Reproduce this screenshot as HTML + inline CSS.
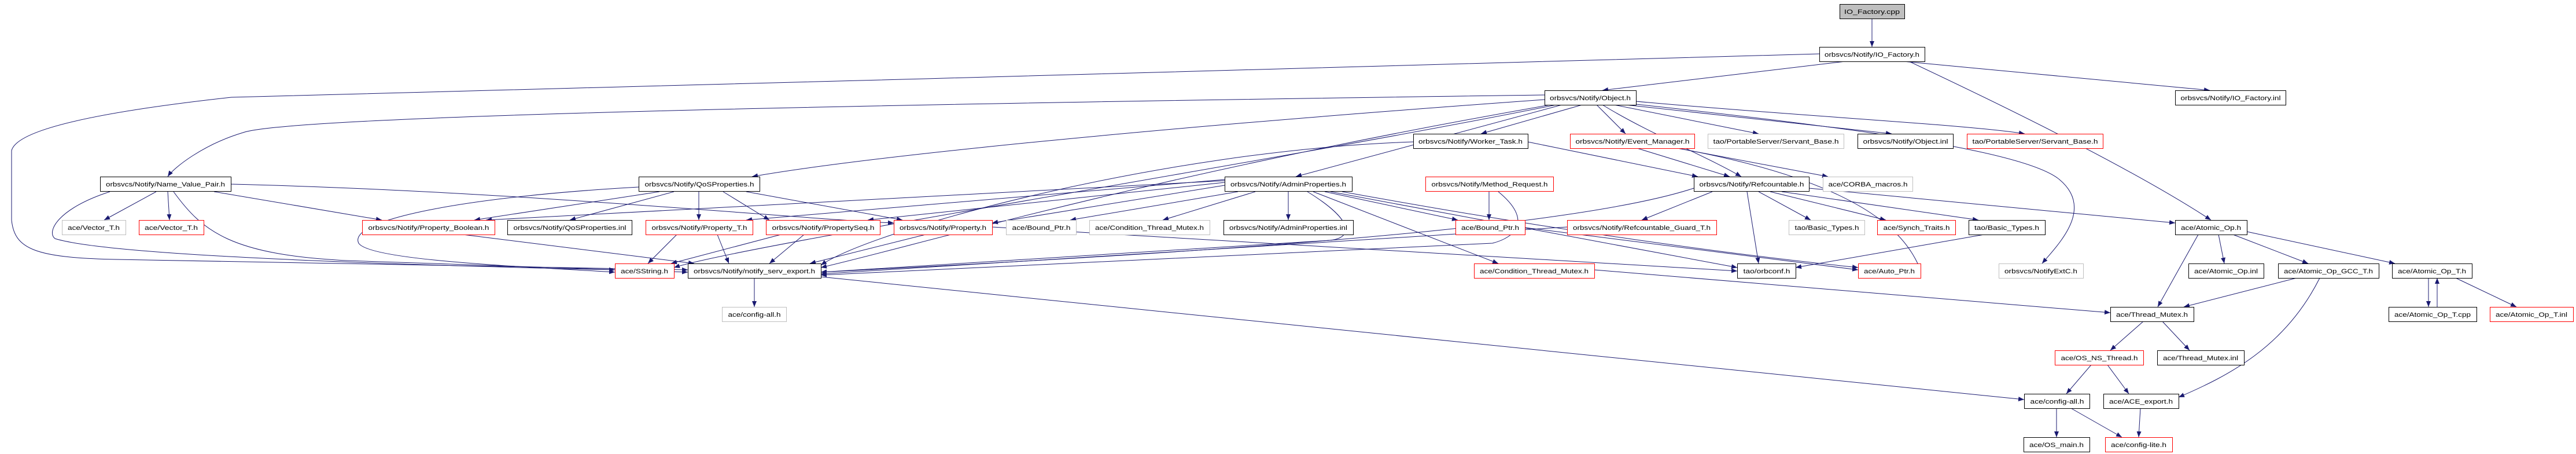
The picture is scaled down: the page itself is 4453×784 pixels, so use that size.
<!DOCTYPE html>
<html><head><meta charset="utf-8"><style>
html,body{margin:0;padding:0;background:#fff;}
svg{display:block;}
text{font-family:"Liberation Sans",sans-serif;font-size:11px;fill:#000;}
.e{fill:none;stroke:#191970;stroke-width:1;marker-end:url(#a);}
</style></head><body>
<svg width="4453" height="784" viewBox="0 0 4453 784" xmlns="http://www.w3.org/2000/svg">
<defs><marker id="a" markerWidth="10" markerHeight="8" refX="10" refY="4" orient="auto" markerUnits="userSpaceOnUse"><path d="M0,0 L10,4 L0,8z" fill="#191970"/></marker></defs>
<g>
<path class="e" d="M3236,32 L3236,81"/>
<path class="e" d="M3190,106 L2770,156"/>
<path class="e" d="M3290,106 L3820,156"/>
<path class="e" d="M3300,106 C3500,200 3700,300 3822,380"/>
<path class="e" d="M3145,93 L1600,136 L400,168 C200,190 30,220 20,260 L20,380 C25,430 60,445 200,448 L1189,466"/>
<path class="e" d="M2670,164 C1500,180 500,200 420,229 C350,250 300,290 290,305"/>
<path class="e" d="M2735,181 L2560,231"/>
<path class="e" d="M2760,181 L2810,231"/>
<path class="e" d="M2790,181 L3040,231"/>
<path class="e" d="M2810,181 L3270,231"/>
<path class="e" d="M2828,175 C3100,200 3400,215 3500,231"/>
<path class="e" d="M2670,172 C2000,220 1500,270 1300,305"/>
<path class="e" d="M2700,181 L2240,305"/>
<path class="e" d="M2770,181 C2850,230 2950,270 3010,305"/>
<path class="e" d="M2900,256 L3160,305"/>
<path class="e" d="M2828,180 C3200,220 3500,260 3560,310 C3620,360 3560,420 3530,455"/>
<path class="e" d="M2680,181 C2000,300 1600,420 1419,462"/>
<path class="e" d="M2690,181 C2200,280 1300,420 1165,462"/>
<path class="e" d="M2641,245 L2935,305"/>
<path class="e" d="M2443,245 C2000,260 1500,400 1419,458"/>
<path class="e" d="M2830,256 L2990,305"/>
<path class="e" d="M2900,256 C3250,320 3300,420 3320,466"/>
<path class="e" d="M270,331 L180,380"/>
<path class="e" d="M290,331 L293,380"/>
<path class="e" d="M370,331 L660,380"/>
<path class="e" d="M399,318 C900,330 1400,380 1545,385"/>
<path class="e" d="M190,331 C100,360 80,400 95,412 C200,445 800,460 1063,466"/>
<path class="e" d="M300,331 C350,400 400,440 600,450 L1189,470"/>
<path class="e" d="M1140,331 L820,380"/>
<path class="e" d="M1165,331 L985,380"/>
<path class="e" d="M1208,331 L1208,380"/>
<path class="e" d="M1250,331 L1330,380"/>
<path class="e" d="M1290,331 L1560,380"/>
<path class="e" d="M1104,323 C800,340 600,380 620,420 C640,450 900,460 1063,470"/>
<path class="e" d="M2117,320 L1715,385"/>
<path class="e" d="M2140,331 L1850,380"/>
<path class="e" d="M2170,331 L2010,380"/>
<path class="e" d="M2227,331 L2227,380"/>
<path class="e" d="M2290,331 L2520,380"/>
<path class="e" d="M2270,331 L2590,455"/>
<path class="e" d="M2300,331 L3003,462"/>
<path class="e" d="M2320,331 C2700,400 3000,440 3212,462"/>
<path class="e" d="M2117,315 L1500,380"/>
<path class="e" d="M2117,310 L1290,380"/>
<path class="e" d="M2117,312 L840,380"/>
<path class="e" d="M2260,331 C2340,380 2340,410 2300,415 L1419,470"/>
<path class="e" d="M2574,331 L2574,380"/>
<path class="e" d="M2590,331 C2650,380 2620,410 2580,420 L1419,475"/>
<path class="e" d="M2960,331 L2838,380"/>
<path class="e" d="M3040,331 L3130,380"/>
<path class="e" d="M3060,331 L3260,380"/>
<path class="e" d="M3080,331 L3420,380"/>
<path class="e" d="M3127,325 L3760,385"/>
<path class="e" d="M3020,331 L3040,455"/>
<path class="e" d="M2928,325 C2700,400 2000,440 1419,470"/>
<path class="e" d="M2709,392 L1419,473"/>
<path class="e" d="M2636,393 L3212,466"/>
<path class="e" d="M1715,392 L3003,468"/>
<path class="e" d="M1600,405 L1400,455"/>
<path class="e" d="M800,405 L1200,455"/>
<path class="e" d="M1170,405 L1120,455"/>
<path class="e" d="M1240,405 L1260,455"/>
<path class="e" d="M1350,405 L1160,455"/>
<path class="e" d="M1390,405 L1330,455"/>
<path class="e" d="M3430,405 L3104,462"/>
<path class="e" d="M2756,466 L3648,540"/>
<path class="e" d="M1304,480 L1304,530"/>
<path class="e" d="M1419,478 L3499,690"/>
<path class="e" d="M3800,405 L3730,530"/>
<path class="e" d="M3835,405 L3845,455"/>
<path class="e" d="M3860,405 L3990,455"/>
<path class="e" d="M3884,400 L4140,455"/>
<path class="e" d="M3970,480 L3775,530"/>
<path class="e" d="M4010,480 C3950,600 3850,650 3766,686"/>
<path class="e" d="M4198,480 L4198,530"/>
<path class="e" d="M4213,530 L4213,480"/>
<path class="e" d="M4245,480 L4350,530"/>
<path class="e" d="M3705,555 L3648,605"/>
<path class="e" d="M3738,555 L3785,605"/>
<path class="e" d="M3615,630 L3572,680"/>
<path class="e" d="M3643,630 L3680,680"/>
<path class="e" d="M3555,705 L3555,755"/>
<path class="e" d="M3580,705 L3668,755"/>
<path class="e" d="M3700,705 L3697,755"/>
</g>
<g stroke-width="1">
<!-- node template: rect + text -->
<rect x="3180.5" y="7.5" width="112" height="25" fill="#bfbfbf" stroke="#000"/><text x="3236" y="24" text-anchor="middle" textLength="96" lengthAdjust="spacingAndGlyphs">IO_Factory.cpp</text>
<rect x="3145.5" y="81.5" width="182" height="25" fill="#fff" stroke="#000"/><text x="3236" y="98" text-anchor="middle" textLength="164" lengthAdjust="spacingAndGlyphs">orbsvcs/Notify/IO_Factory.h</text>
<rect x="2670.5" y="156.5" width="158" height="25" fill="#fff" stroke="#000"/><text x="2749" y="173" text-anchor="middle" textLength="140" lengthAdjust="spacingAndGlyphs">orbsvcs/Notify/Object.h</text>
<rect x="3760.5" y="156.5" width="191" height="25" fill="#fff" stroke="#000"/><text x="3856" y="173" text-anchor="middle" textLength="173" lengthAdjust="spacingAndGlyphs">orbsvcs/Notify/IO_Factory.inl</text>

<rect x="2443.5" y="231.5" width="198" height="25" fill="#fff" stroke="#000"/><text x="2542" y="248" text-anchor="middle" textLength="180" lengthAdjust="spacingAndGlyphs">orbsvcs/Notify/Worker_Task.h</text>
<rect x="2714.5" y="231.5" width="215" height="25" fill="#fff" stroke="#f00"/><text x="2822" y="248" text-anchor="middle" textLength="197" lengthAdjust="spacingAndGlyphs">orbsvcs/Notify/Event_Manager.h</text>
<rect x="2952.5" y="231.5" width="235" height="25" fill="#fff" stroke="#bfbfbf"/><text x="3070" y="248" text-anchor="middle" textLength="217" lengthAdjust="spacingAndGlyphs">tao/PortableServer/Servant_Base.h</text>
<rect x="3211.5" y="231.5" width="165" height="25" fill="#fff" stroke="#000"/><text x="3294" y="248" text-anchor="middle" textLength="147" lengthAdjust="spacingAndGlyphs">orbsvcs/Notify/Object.inl</text>
<rect x="3400.5" y="231.5" width="235" height="25" fill="#fff" stroke="#f00"/><text x="3518" y="248" text-anchor="middle" textLength="217" lengthAdjust="spacingAndGlyphs">tao/PortableServer/Servant_Base.h</text>

<rect x="173.5" y="305.5" width="226" height="25" fill="#fff" stroke="#000"/><text x="286" y="322" text-anchor="middle" textLength="206" lengthAdjust="spacingAndGlyphs">orbsvcs/Notify/Name_Value_Pair.h</text>
<rect x="1104.5" y="305.5" width="209" height="25" fill="#fff" stroke="#000"/><text x="1209" y="322" text-anchor="middle" textLength="189" lengthAdjust="spacingAndGlyphs">orbsvcs/Notify/QoSProperties.h</text>
<rect x="2117.5" y="305.5" width="220" height="25" fill="#fff" stroke="#000"/><text x="2227" y="322" text-anchor="middle" textLength="200" lengthAdjust="spacingAndGlyphs">orbsvcs/Notify/AdminProperties.h</text>
<rect x="2464.5" y="305.5" width="221" height="25" fill="#fff" stroke="#f00"/><text x="2575" y="322" text-anchor="middle" textLength="201" lengthAdjust="spacingAndGlyphs">orbsvcs/Notify/Method_Request.h</text>
<rect x="2928.5" y="305.5" width="199" height="25" fill="#fff" stroke="#000"/><text x="3028" y="322" text-anchor="middle" textLength="181" lengthAdjust="spacingAndGlyphs">orbsvcs/Notify/Refcountable.h</text>
<rect x="3151.5" y="305.5" width="155" height="25" fill="#fff" stroke="#bfbfbf"/><text x="3229" y="322" text-anchor="middle" textLength="137" lengthAdjust="spacingAndGlyphs">ace/CORBA_macros.h</text>

<rect x="107.5" y="380.5" width="110" height="25" fill="#fff" stroke="#bfbfbf"/><text x="162" y="397" text-anchor="middle" textLength="90" lengthAdjust="spacingAndGlyphs">ace/Vector_T.h</text>
<rect x="240.5" y="380.5" width="112" height="25" fill="#fff" stroke="#f00"/><text x="296" y="397" text-anchor="middle" textLength="92" lengthAdjust="spacingAndGlyphs">ace/Vector_T.h</text>
<rect x="626.5" y="380.5" width="229" height="25" fill="#fff" stroke="#f00"/><text x="741" y="397" text-anchor="middle" textLength="209" lengthAdjust="spacingAndGlyphs">orbsvcs/Notify/Property_Boolean.h</text>
<rect x="877.5" y="380.5" width="215" height="25" fill="#fff" stroke="#000"/><text x="985" y="397" text-anchor="middle" textLength="195" lengthAdjust="spacingAndGlyphs">orbsvcs/Notify/QoSProperties.inl</text>
<rect x="1116.5" y="380.5" width="185" height="25" fill="#fff" stroke="#f00"/><text x="1209" y="397" text-anchor="middle" textLength="165" lengthAdjust="spacingAndGlyphs">orbsvcs/Notify/Property_T.h</text>
<rect x="1324.5" y="380.5" width="197" height="25" fill="#fff" stroke="#f00"/><text x="1423" y="397" text-anchor="middle" textLength="177" lengthAdjust="spacingAndGlyphs">orbsvcs/Notify/PropertySeq.h</text>
<rect x="1545.5" y="380.5" width="170" height="25" fill="#fff" stroke="#f00"/><text x="1630" y="397" text-anchor="middle" textLength="150" lengthAdjust="spacingAndGlyphs">orbsvcs/Notify/Property.h</text>
<rect x="1739.5" y="380.5" width="121" height="25" fill="#fff" stroke="#bfbfbf"/><text x="1800" y="397" text-anchor="middle" textLength="101" lengthAdjust="spacingAndGlyphs">ace/Bound_Ptr.h</text>
<rect x="1883.5" y="380.5" width="208" height="25" fill="#fff" stroke="#bfbfbf"/><text x="1987" y="397" text-anchor="middle" textLength="188" lengthAdjust="spacingAndGlyphs">ace/Condition_Thread_Mutex.h</text>
<rect x="2115.5" y="380.5" width="224" height="25" fill="#fff" stroke="#000"/><text x="2227" y="397" text-anchor="middle" textLength="204" lengthAdjust="spacingAndGlyphs">orbsvcs/Notify/AdminProperties.inl</text>
<rect x="2516.5" y="380.5" width="120" height="25" fill="#fff" stroke="#f00"/><text x="2576" y="397" text-anchor="middle" textLength="100" lengthAdjust="spacingAndGlyphs">ace/Bound_Ptr.h</text>
<rect x="2709.5" y="380.5" width="258" height="25" fill="#fff" stroke="#f00"/><text x="2838" y="397" text-anchor="middle" textLength="238" lengthAdjust="spacingAndGlyphs">orbsvcs/Notify/Refcountable_Guard_T.h</text>
<rect x="3092.5" y="380.5" width="131" height="25" fill="#fff" stroke="#bfbfbf"/><text x="3158" y="397" text-anchor="middle" textLength="111" lengthAdjust="spacingAndGlyphs">tao/Basic_Types.h</text>
<rect x="3245.5" y="380.5" width="135" height="25" fill="#fff" stroke="#f00"/><text x="3313" y="397" text-anchor="middle" textLength="115" lengthAdjust="spacingAndGlyphs">ace/Synch_Traits.h</text>
<rect x="3403.5" y="380.5" width="132" height="25" fill="#fff" stroke="#000"/><text x="3469" y="397" text-anchor="middle" textLength="112" lengthAdjust="spacingAndGlyphs">tao/Basic_Types.h</text>
<rect x="3760.5" y="380.5" width="124" height="25" fill="#fff" stroke="#000"/><text x="3822" y="397" text-anchor="middle" textLength="104" lengthAdjust="spacingAndGlyphs">ace/Atomic_Op.h</text>

<rect x="1063.5" y="455.5" width="102" height="25" fill="#fff" stroke="#f00"/><text x="1114" y="472" text-anchor="middle" textLength="82" lengthAdjust="spacingAndGlyphs">ace/SString.h</text>
<rect x="1189.5" y="455.5" width="230" height="25" fill="#fff" stroke="#000"/><text x="1304" y="472" text-anchor="middle" textLength="210" lengthAdjust="spacingAndGlyphs">orbsvcs/Notify/notify_serv_export.h</text>
<rect x="2548.5" y="455.5" width="208" height="25" fill="#fff" stroke="#f00"/><text x="2652" y="472" text-anchor="middle" textLength="188" lengthAdjust="spacingAndGlyphs">ace/Condition_Thread_Mutex.h</text>
<rect x="3003.5" y="455.5" width="101" height="25" fill="#fff" stroke="#000"/><text x="3054" y="472" text-anchor="middle" textLength="81" lengthAdjust="spacingAndGlyphs">tao/orbconf.h</text>
<rect x="3212.5" y="455.5" width="108" height="25" fill="#fff" stroke="#f00"/><text x="3266" y="472" text-anchor="middle" textLength="88" lengthAdjust="spacingAndGlyphs">ace/Auto_Ptr.h</text>
<rect x="3455.5" y="455.5" width="146" height="25" fill="#fff" stroke="#bfbfbf"/><text x="3528" y="472" text-anchor="middle" textLength="126" lengthAdjust="spacingAndGlyphs">orbsvcs/NotifyExtC.h</text>
<rect x="3783.5" y="455.5" width="130" height="25" fill="#fff" stroke="#000"/><text x="3848" y="472" text-anchor="middle" textLength="110" lengthAdjust="spacingAndGlyphs">ace/Atomic_Op.inl</text>
<rect x="3938.5" y="455.5" width="174" height="25" fill="#fff" stroke="#000"/><text x="4025" y="472" text-anchor="middle" textLength="154" lengthAdjust="spacingAndGlyphs">ace/Atomic_Op_GCC_T.h</text>
<rect x="4135.5" y="455.5" width="138" height="25" fill="#fff" stroke="#000"/><text x="4204" y="472" text-anchor="middle" textLength="118" lengthAdjust="spacingAndGlyphs">ace/Atomic_Op_T.h</text>

<rect x="1248.5" y="530.5" width="111" height="25" fill="#fff" stroke="#bfbfbf"/><text x="1304" y="547" text-anchor="middle" textLength="91" lengthAdjust="spacingAndGlyphs">ace/config-all.h</text>
<rect x="3648.5" y="530.5" width="144" height="25" fill="#fff" stroke="#000"/><text x="3720" y="547" text-anchor="middle" textLength="124" lengthAdjust="spacingAndGlyphs">ace/Thread_Mutex.h</text>
<rect x="4129.5" y="530.5" width="152" height="25" fill="#fff" stroke="#000"/><text x="4205" y="547" text-anchor="middle" textLength="132" lengthAdjust="spacingAndGlyphs">ace/Atomic_Op_T.cpp</text>
<rect x="4304.5" y="530.5" width="144" height="25" fill="#fff" stroke="#f00"/><text x="4376" y="547" text-anchor="middle" textLength="124" lengthAdjust="spacingAndGlyphs">ace/Atomic_Op_T.inl</text>

<rect x="3552.5" y="605.5" width="153" height="25" fill="#fff" stroke="#f00"/><text x="3629" y="622" text-anchor="middle" textLength="133" lengthAdjust="spacingAndGlyphs">ace/OS_NS_Thread.h</text>
<rect x="3729.5" y="605.5" width="150" height="25" fill="#fff" stroke="#000"/><text x="3804" y="622" text-anchor="middle" textLength="130" lengthAdjust="spacingAndGlyphs">ace/Thread_Mutex.inl</text>

<rect x="3499.5" y="680.5" width="113" height="25" fill="#fff" stroke="#000"/><text x="3556" y="697" text-anchor="middle" textLength="93" lengthAdjust="spacingAndGlyphs">ace/config-all.h</text>
<rect x="3636.5" y="680.5" width="130" height="25" fill="#fff" stroke="#000"/><text x="3701" y="697" text-anchor="middle" textLength="110" lengthAdjust="spacingAndGlyphs">ace/ACE_export.h</text>

<rect x="3498.5" y="755.5" width="114" height="25" fill="#fff" stroke="#000"/><text x="3555" y="772" text-anchor="middle" textLength="94" lengthAdjust="spacingAndGlyphs">ace/OS_main.h</text>
<rect x="3639.5" y="755.5" width="116" height="25" fill="#fff" stroke="#f00"/><text x="3697" y="772" text-anchor="middle" textLength="96" lengthAdjust="spacingAndGlyphs">ace/config-lite.h</text>
</g>
</svg>
</body></html>
